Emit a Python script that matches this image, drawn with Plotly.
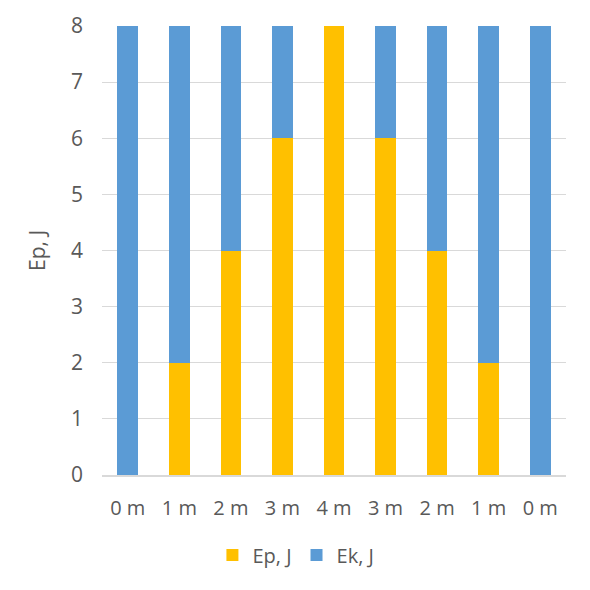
import plotly.graph_objects as go

categories = ["0 m", "1 m", "2 m", "3 m", "4 m", "3 m", "2 m", "1 m", "0 m"]
ep_values = [0, 2, 4, 6, 8, 6, 4, 2, 0]
ek_values = [8, 6, 4, 2, 0, 2, 4, 6, 8]
y_ticks = [0, 1, 2, 3, 4, 5, 6, 7, 8]

x_pos = list(range(len(categories)))
font_fam = "Open Sans"
gray = "#595959"

fig = go.Figure()
fig.add_trace(go.Bar(x=x_pos, y=ep_values, name="Ep, J", marker_color="#FFC000", marker_line_width=0))
fig.add_trace(go.Bar(x=x_pos, y=ek_values, name="Ek, J", marker_color="#5B9BD5", marker_line_width=0))

fig.update_layout(
    barmode="stack",
    bargap=0.6,
    width=590, height=590,
    margin=dict(l=94, r=32, t=18, b=123),
    plot_bgcolor="white", paper_bgcolor="white",
    font=dict(family=font_fam, color=gray, size=20),
    legend=dict(orientation="h", x=0.488, xanchor="center", xref="container",
                y=0.073, yanchor="middle", yref="container",
                font=dict(size=20, color=gray), itemwidth=30, traceorder="normal"),
    xaxis=dict(tickvals=x_pos, ticktext=categories, range=[-0.5, 8.5], automargin=False,
               showgrid=False, showline=True, linecolor="#d9d9d9", linewidth=1.5,
               ticks="", ticklabelstandoff=14, tickfont=dict(size=20, color=gray)),
    yaxis=dict(range=[0, 8], tickvals=y_ticks, showgrid=True, gridcolor="#d9d9d9",
               gridwidth=1, zeroline=False, showline=False, ticks="", automargin=False,
               ticklabelstandoff=18, tickfont=dict(size=21, color=gray),
               title=dict(text="Ep, J", font=dict(size=21, color=gray), standoff=19)),
)

fig.write_html("out.html")
